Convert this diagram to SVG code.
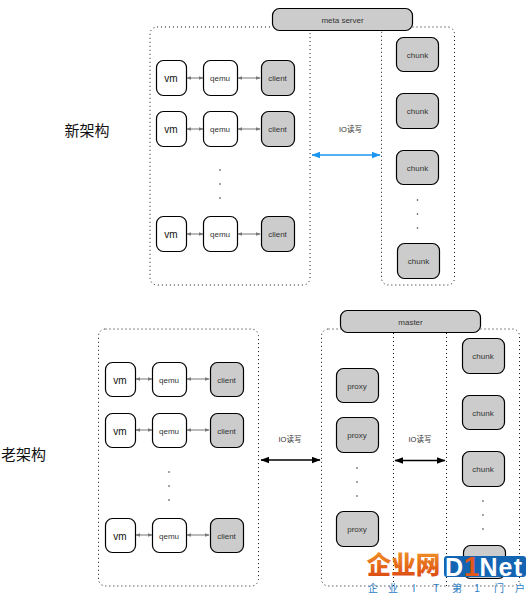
<svg xmlns="http://www.w3.org/2000/svg" width="526" height="594" viewBox="0 0 526 594">
<style>
text{font-family:"Liberation Sans","Noto Sans CJK SC",sans-serif;text-anchor:middle;fill:#333}
.w{fill:#fff;stroke:#000;stroke-width:1.2}
.g{fill:#ccc;stroke:#000;stroke-width:1.2}
.t{font-size:8px}
.vm{font-size:10px;fill:#111}
.box{fill:none;stroke:#111;stroke-width:1;stroke-dasharray:1 3}
.c{stroke:#777;stroke-width:1;fill:none;marker-start:url(#ga);marker-end:url(#ga)}
.k{stroke:#000;stroke-width:1.5;fill:none;marker-start:url(#ka);marker-end:url(#ka)}
.b{stroke:#1a96f0;stroke-width:1.5;fill:none;marker-start:url(#ba);marker-end:url(#ba)}
.d{fill:#333}
.big{font-size:15px;fill:#111}
.io{font-size:7.5px}
.wm{font-weight:700;fill:#fff;font-size:25px}
</style>
<defs>
<linearGradient id="og" x1="0" y1="0" x2="0" y2="1"><stop offset="0" stop-color="#f4a02a"/><stop offset="1" stop-color="#d9400f"/></linearGradient>
<marker id="ga" viewBox="0 0 8 6" refX="7" refY="3" markerWidth="5" markerHeight="4" markerUnits="userSpaceOnUse" orient="auto-start-reverse"><path d="M0 0L8 3L0 6Z" fill="#777"/></marker>
<marker id="ka" viewBox="0 0 8 6" refX="7.5" refY="3" markerWidth="9" markerHeight="7" markerUnits="userSpaceOnUse" orient="auto-start-reverse"><path d="M0 0L8 3L0 6Z" fill="#000"/></marker>
<marker id="ba" viewBox="0 0 8 6" refX="7.5" refY="3" markerWidth="9" markerHeight="7" markerUnits="userSpaceOnUse" orient="auto-start-reverse"><path d="M0 0L8 3L0 6Z" fill="#1a96f0"/></marker>
</defs>
<rect width="526" height="594" fill="#fff"/>
<g id="containers">
<rect class="box" x="150" y="27" width="160" height="258" rx="7"/>
<rect class="box" x="381.500" y="27" width="73" height="258" rx="7"/>
<rect class="box" x="98.500" y="329" width="160" height="257" rx="7"/>
<rect class="box" x="321.500" y="329" width="198" height="257" rx="7"/>
<path class="box" d="M393.500 333V586"/>
<path class="box" d="M446.500 333V586"/>
</g>
<g id="connectors">
<path class="c" d="M187 78H203"/><path class="c" d="M238 78H260"/>
<path class="c" d="M187 129H203"/><path class="c" d="M238 129H260"/>
<path class="c" d="M187 234H203"/><path class="c" d="M238 234H260"/>
<path class="c" d="M136 379H152"/><path class="c" d="M187 379H209"/>
<path class="c" d="M136 430H152"/><path class="c" d="M187 430H209"/>
<path class="c" d="M136 535H152"/><path class="c" d="M187 535H209"/>
<path class="b" d="M312 155H380"/>
<path class="k" d="M261 460H320"/>
<path class="k" d="M395 460.500H445"/>
</g>
<g id="n-meta"><rect class="g" x="272.500" y="8.500" width="140" height="22" rx="7"/><text class="t" x="342.500" y="22.500">meta server</text></g>
<g id="n-master"><rect class="g" x="340.500" y="310.500" width="140" height="22" rx="7"/><text class="t" x="410.500" y="324.500">master</text></g>
<g id="n-vm1"><rect class="w" x="156.500" y="60.500" width="30" height="35" rx="7"/><text class="vm" x="171" y="82">vm</text></g>
<g id="n-qemu1"><rect class="w" x="203.500" y="60.500" width="34" height="35" rx="7"/><text class="t" x="220" y="81">qemu</text></g>
<g id="n-client1"><rect class="g" x="261.500" y="60.500" width="33" height="35" rx="7"/><text class="t" x="277.500" y="81">client</text></g>
<g id="n-vm2"><rect class="w" x="156.500" y="111.500" width="30" height="35" rx="7"/><text class="vm" x="171" y="133">vm</text></g>
<g id="n-qemu2"><rect class="w" x="203.500" y="111.500" width="34" height="35" rx="7"/><text class="t" x="220" y="132">qemu</text></g>
<g id="n-client2"><rect class="g" x="261.500" y="111.500" width="33" height="35" rx="7"/><text class="t" x="277.500" y="132">client</text></g>
<g id="n-vm3"><rect class="w" x="156.500" y="216.500" width="30" height="35" rx="7"/><text class="vm" x="171" y="238">vm</text></g>
<g id="n-qemu3"><rect class="w" x="203.500" y="216.500" width="34" height="35" rx="7"/><text class="t" x="220" y="237">qemu</text></g>
<g id="n-client3"><rect class="g" x="261.500" y="216.500" width="33" height="35" rx="7"/><text class="t" x="277.500" y="237">client</text></g>
<g id="n-chunk1"><rect class="g" x="396.500" y="37.500" width="42" height="34" rx="7"/><text class="t" x="417.500" y="57.500">chunk</text></g>
<g id="n-chunk2"><rect class="g" x="396.500" y="93.500" width="42" height="35" rx="7"/><text class="t" x="417.500" y="114">chunk</text></g>
<g id="n-chunk3"><rect class="g" x="396.500" y="150.500" width="42" height="34" rx="7"/><text class="t" x="417.500" y="170.500">chunk</text></g>
<g id="n-chunk4"><rect class="g" x="397.500" y="243.500" width="42" height="35" rx="7"/><text class="t" x="418.500" y="264">chunk</text></g>
<g id="n-vm4"><rect class="w" x="105.500" y="362.500" width="30" height="34" rx="7"/><text class="vm" x="120" y="384">vm</text></g>
<g id="n-qemu4"><rect class="w" x="152.500" y="362.500" width="34" height="34" rx="7"/><text class="t" x="169" y="382.500">qemu</text></g>
<g id="n-client4"><rect class="g" x="210.500" y="362.500" width="33" height="34" rx="7"/><text class="t" x="226.500" y="382.500">client</text></g>
<g id="n-vm5"><rect class="w" x="105.500" y="413.500" width="30" height="34" rx="7"/><text class="vm" x="120" y="435">vm</text></g>
<g id="n-qemu5"><rect class="w" x="152.500" y="413.500" width="34" height="34" rx="7"/><text class="t" x="169" y="433.500">qemu</text></g>
<g id="n-client5"><rect class="g" x="210.500" y="413.500" width="33" height="34" rx="7"/><text class="t" x="226.500" y="433.500">client</text></g>
<g id="n-vm6"><rect class="w" x="105.500" y="518.500" width="30" height="34" rx="7"/><text class="vm" x="120" y="540">vm</text></g>
<g id="n-qemu6"><rect class="w" x="152.500" y="518.500" width="34" height="34" rx="7"/><text class="t" x="169" y="538.500">qemu</text></g>
<g id="n-client6"><rect class="g" x="210.500" y="518.500" width="33" height="34" rx="7"/><text class="t" x="226.500" y="538.500">client</text></g>
<g id="n-proxy1"><rect class="g" x="336.500" y="368.500" width="42" height="34" rx="7"/><text class="t" x="357" y="388.500">proxy</text></g>
<g id="n-proxy2"><rect class="g" x="336.500" y="417.500" width="42" height="35" rx="7"/><text class="t" x="357" y="438">proxy</text></g>
<g id="n-proxy3"><rect class="g" x="336.500" y="511.500" width="42" height="35" rx="7"/><text class="t" x="357" y="532">proxy</text></g>
<g id="n-chunk5"><rect class="g" x="462.500" y="338.500" width="42" height="35" rx="7"/><text class="t" x="483" y="359">chunk</text></g>
<g id="n-chunk6"><rect class="g" x="462.500" y="395.500" width="42" height="34" rx="7"/><text class="t" x="483" y="415.500">chunk</text></g>
<g id="n-chunk7"><rect class="g" x="462.500" y="451.500" width="42" height="35" rx="7"/><text class="t" x="483" y="472">chunk</text></g>
<g id="n-chunk8"><rect class="g" x="463.500" y="545.500" width="42" height="33" rx="7"/></g>
<g id="dots" class="d">
<circle cx="220" cy="170" r=".8"/><circle cx="220" cy="184" r=".8"/><circle cx="220" cy="198" r=".8"/>
<circle cx="417.500" cy="200" r=".8"/><circle cx="417.500" cy="214" r=".8"/><circle cx="417.500" cy="228" r=".8"/>
<circle cx="169" cy="472" r=".8"/><circle cx="169" cy="486" r=".8"/><circle cx="169" cy="500" r=".8"/>
<circle cx="357" cy="468" r=".8"/><circle cx="357" cy="482" r=".8"/><circle cx="357" cy="496" r=".8"/>
<circle cx="483" cy="501" r=".8"/><circle cx="483" cy="515" r=".8"/><circle cx="483" cy="529" r=".8"/>
</g>
<g id="labels">
<text class="io" x="350.500" y="132">IO读写</text>
<text class="io" x="290" y="442">IO读写</text>
<text class="io" x="420" y="442">IO读写</text>
<text class="big" x="87" y="136">新架构</text>
<text class="big" x="23.500" y="460">老架构</text>
</g>
<g id="watermark">
<text x="403.500" y="574" style="font-size:24.500px;font-weight:900;fill:url(#og);font-family:'Noto Sans CJK SC',sans-serif">企业网</text>
<rect x="444" y="556" width="82" height="21" rx="3" fill="#1464b4"/>
<text class="wm" x="454" y="575.500">D</text>
<text x="471.500" y="576" style="font-size:28px;font-weight:700;fill:#e2571b">1</text>
<text class="wm" x="488.500" y="575.500">N</text>
<text class="wm" x="505.500" y="575.500">e</text>
<text class="wm" x="518" y="575.500">t</text>
<text x="373 393 414 436 457 477 499 520" y="592" style="font-size:10px;fill:#2a7cc4">企业IT第1门户</text>
</g>
</svg>
